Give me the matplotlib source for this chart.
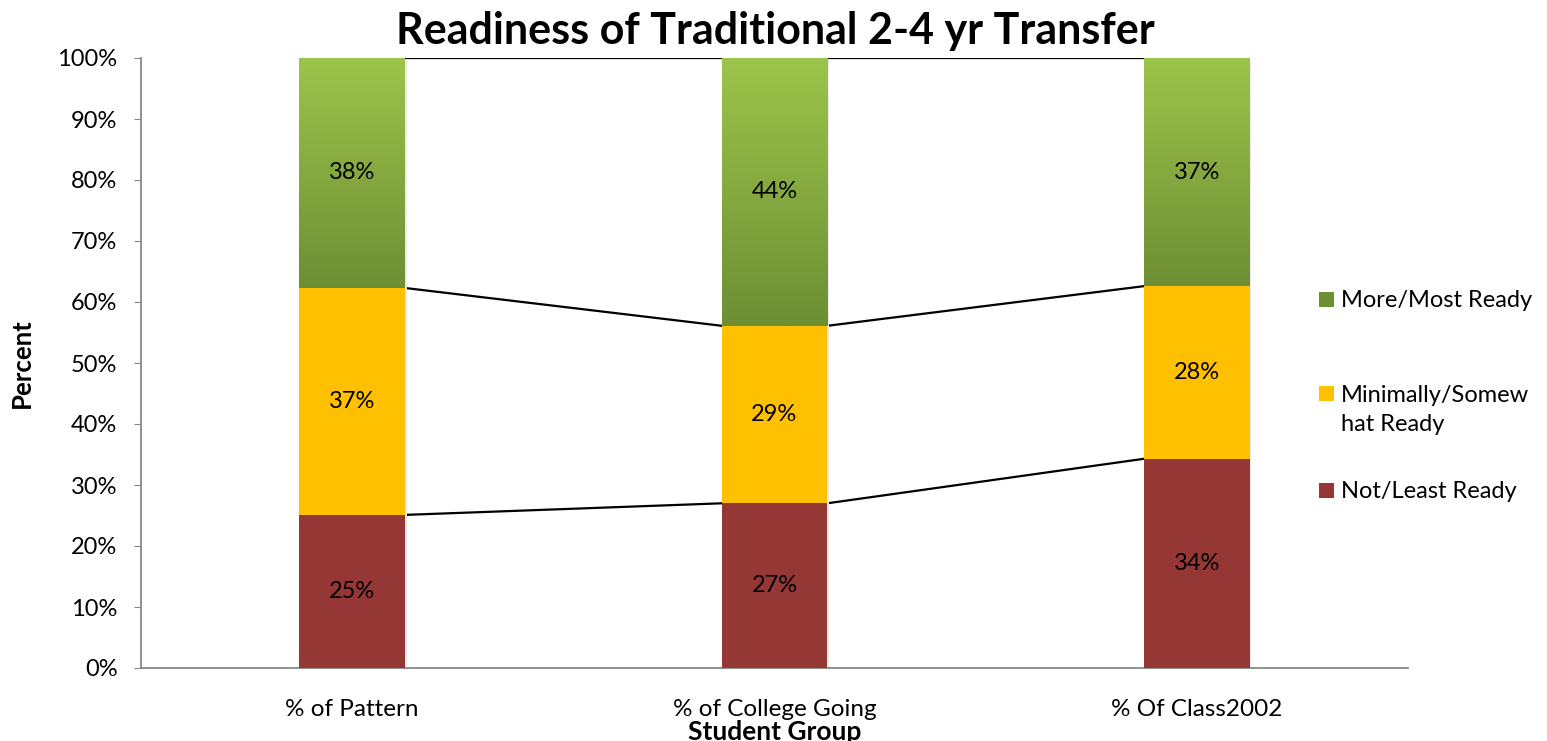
import matplotlib
matplotlib.use("Agg")
import matplotlib.pyplot as plt
import numpy as np
from matplotlib.patches import Rectangle
from matplotlib.colors import LinearSegmentedColormap

categories = ["% of Pattern", "% of College Going", "% Of Class2002"]
not_ready = [25.1, 27.0, 34.3]
minimally = [37.2, 29.1, 28.3]
more_ready = [37.7, 43.9, 37.4]
series_names = ["Not/Least Ready", "Minimally/Somew\nhat Ready", "More/Most Ready"]
yticks = [0, 10, 20, 30, 40, 50, 60, 70, 80, 90, 100]

plt.rcParams['font.family'] = ['Lato', 'DejaVu Sans']

W, H = 1547, 741
fig = plt.figure(figsize=(W/100, H/100), dpi=100)
ax = fig.add_axes([141/W, 73/H, (1408-141)/W, 610/H])

red = "#953735"
yellow = "#FFC000"
green_top = "#9DC44B"
green_bot = "#6E8E34"
gcmap = LinearSegmentedColormap.from_list("g", [green_bot, green_top])

x = np.arange(len(categories))
w = 0.25
series = [not_ready, minimally, more_ready]
totals = np.sum(series, axis=0)
pct = [np.array(s) / totals * 100 for s in series]
colors = [red, yellow, None]

# subtle shadow behind bars
ax.bar(x + 0.004, 100, w, bottom=-0.5, color="#ebebeb", zorder=2.5)

bottom = np.zeros(len(categories))
tops = []
for i, vals in enumerate(pct):
    if colors[i] is not None:
        bars = ax.bar(x, vals, w, bottom=bottom, color=colors[i], zorder=3)
    else:
        bars = ax.bar(x, vals, w, bottom=bottom, color="none", zorder=3)
        for b in bars:
            grad = np.linspace(0, 1, 256).reshape(-1, 1)
            im = ax.imshow(grad, cmap=gcmap, origin="lower", aspect="auto",
                           extent=[b.get_x(), b.get_x() + b.get_width(),
                                   b.get_y(), b.get_y() + b.get_height()], zorder=3)
            im.set_clip_path(b)
    raw = series[i]
    for xi, v, bt, r in zip(x, vals, bottom, raw):
        ax.text(xi, bt + v / 2, f"{r:.0f}%", ha="center", va="center",
                fontsize=17, color="black", zorder=5)
    bottom = bottom + vals
    tops.append(bottom.copy())

# series lines
for t in tops:
    for j in range(len(categories) - 1):
        ax.plot([x[j] + w/2, x[j+1] - w/2], [t[j], t[j+1]], color="black", lw=1.6, zorder=2)

ax.set_xlim(-0.5, 2.5)
ax.set_ylim(0, 100)
ax.set_yticks(yticks)
ax.set_yticklabels([f"{t}%" for t in yticks], fontsize=17)
ax.set_xticks(x)
ax.set_xticklabels(categories, fontsize=17.5)
ax.tick_params(axis="x", length=0, pad=22)
ax.tick_params(axis="y", length=5, color="#888888", pad=12, direction="out")
for s in ["top", "right"]:
    ax.spines[s].set_visible(False)
for s in ["left", "bottom"]:
    ax.spines[s].set_color("#888888")
    ax.spines[s].set_linewidth(1.3)

ax.set_xlabel("Student Group", fontsize=19, fontweight="bold", va="center")
ax.xaxis.set_label_coords(0.5, (668 - 732) / 610)
ax.set_ylabel("Percent", fontsize=18.5, fontweight="bold", va="center")
ax.yaxis.set_label_coords((22 - 141) / 1267, 0.5)
fig.text(775/W, 1 - 31/H, "Readiness of Traditional 2-4 yr Transfer",
         fontsize=31, fontweight="bold", ha="center", va="center")

# legend (top entry first)
leg_colors = [green_bot, yellow, red]
leg_labels = [series_names[2], series_names[1], series_names[0]]
leg_y = [299, 394, 490]
sq = 15
for c, lab, yy in zip(leg_colors, leg_labels, leg_y):
    fig.add_artist(Rectangle((1319/W, 1 - (yy + sq/2)/H), sq/W, sq/H,
                             transform=fig.transFigure, facecolor=c, edgecolor="none"))
    fig.text(1341/W, 1 - (yy - 9)/H, lab, fontsize=17, ha="left", va="top",
             linespacing=1.45)

fig.savefig("out.png", dpi=100)
